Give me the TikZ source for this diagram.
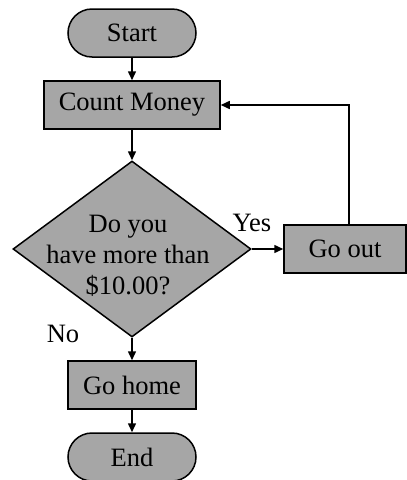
\documentclass[tikz,border=0pt]{standalone}
\usepackage{fontspec}
\setmainfont{Liberation Serif}
\usetikzlibrary{shapes.geometric,arrows.meta}
\definecolor{boxgray}{RGB}{166,166,166}
\begin{document}
\begin{tikzpicture}[x=1pt,y=-1pt,
  font=\fontsize{26.5}{31}\selectfont,
  base/.style={draw=black,line width=1.5pt,fill=boxgray,inner sep=0pt},
  procbox/.style={base,rectangle},
  termbox/.style={base,rectangle,rounded corners=24pt,minimum width=128pt,minimum height=48pt},
  decision/.style={base,diamond,minimum width=238pt,minimum height=176pt},
  conn/.style={line width=1.5pt,-{Triangle[length=9pt,width=8pt]}},
  lbl/.style={inner sep=0pt}]
\useasboundingbox (0,0) rectangle (407,480);
\node[termbox] (start) at (132,33) {Start\hspace{11pt}};
\node[procbox,minimum width=176pt,minimum height=48pt] (count) at (132,105) {Count Money\hspace{8pt}};
\node[decision] (q) at (132,249) {};
\node[lbl,align=center] (qt) at (128,256) {Do you\\have more than\\\$10.00?};
\node[procbox,minimum width=122pt,minimum height=48pt] (goout) at (345,249) {Go out};
\node[procbox,minimum width=128pt,minimum height=48pt] (home) at (132,385) {Go home\hspace{13pt}};
\node[termbox] (end) at (132,457) {End\hspace{12pt}};
\node[lbl] (yes) at (252,223) {Yes};
\node[lbl] (no) at (63,334) {No};
\draw[conn] (start.south) -- (count.north);
\draw[conn] (count.south) -- (q.north);
\draw[conn] (q.east) -- (goout.west);
\draw[conn] (q.south) -- (home.north);
\draw[conn] (home.south) -- (end.north);
\draw[conn] ([xshift=4pt]goout.north) |- (count.east);
\end{tikzpicture}
\end{document}
